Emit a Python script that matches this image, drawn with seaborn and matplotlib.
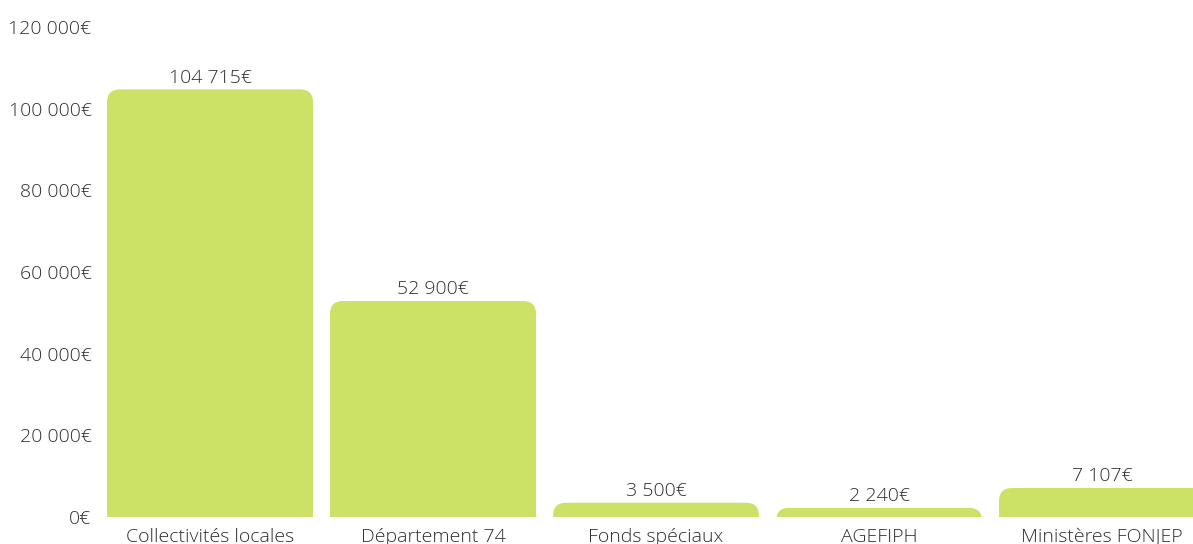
import matplotlib
matplotlib.use("Agg")
import matplotlib.pyplot as plt
import seaborn as sns
import pandas as pd
from matplotlib.patches import FancyBboxPatch

categories = ["Collectivités locales", "Département 74", "Fonds spéciaux", "AGEFIPH", "Ministères FONJEP"]
values = [104715, 52900, 3500, 2240, 7107]
yticks = [0, 20000, 40000, 60000, 80000, 100000, 120000]

BAR_COLOR = "#cbe266"
TEXT_COLOR = "#2e2e2e"
FS = 14

sns.set_theme(style="white")
plt.rcParams["font.family"] = ["Open Sans", "DejaVu Sans"]
plt.rcParams["font.weight"] = "light"

def fmt(v):
    return f"{int(v):,}".replace(",", " ") + "€"

df = pd.DataFrame({"cat": categories, "val": values})

fig = plt.figure(figsize=(11.93, 5.44), dpi=100)
ax = fig.add_axes([98.5 / 1193, (544 - 517) / 544, 1 - 98.5 / 1193, (517 - 27) / 544])

sns.barplot(data=df, x="cat", y="val", color=BAR_COLOR, saturation=1, width=206 / 223, ax=ax)
ax.set_xlim(-0.5, 4.408)
ax.set_ylim(0, 120000)

fig.canvas.draw()
p0 = ax.transData.transform((0, 0))
p1 = ax.transData.transform((1, 1))
px_per_x = p1[0] - p0[0]
px_per_y = p1[1] - p0[1]
radius_px = 13
rx = radius_px / px_per_x
aspect = px_per_x / px_per_y

for bar in list(ax.patches):
    x = bar.get_x()
    w = bar.get_width()
    h = bar.get_height()
    bar.set_visible(False)
    ext = 30000
    rb = FancyBboxPatch((x, -ext), w, h + ext,
                        boxstyle=f"round,pad=0,rounding_size={rx}",
                        mutation_aspect=aspect,
                        facecolor=BAR_COLOR, edgecolor="none", linewidth=0)
    ax.add_patch(rb)
    ax.annotate(fmt(h), (x + w / 2, h), xytext=(0, 2), textcoords="offset points",
                ha="center", va="bottom", fontsize=FS, color=TEXT_COLOR, fontweight="light")

ax.set_yticks(yticks)
ax.set_yticklabels([fmt(v) for v in yticks])
ax.set_xlabel("")
ax.set_ylabel("")
for s in ax.spines.values():
    s.set_visible(False)
ax.tick_params(axis="both", length=0, labelsize=FS, labelcolor=TEXT_COLOR)
ax.tick_params(axis="y", pad=5)
ax.tick_params(axis="x", pad=8)

fig.savefig("out.png", dpi=100)
